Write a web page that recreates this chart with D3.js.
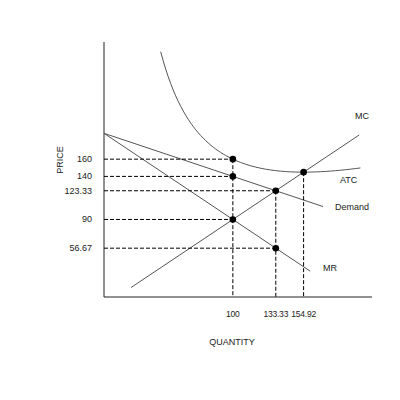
<!DOCTYPE html>
<html><head><meta charset="utf-8">
<script src="https://cdn.jsdelivr.net/npm/d3@7"></script>
<style>body{margin:0;background:#fff}text{font-family:"Liberation Sans",Arial,sans-serif;font-size:9px;fill:#222}</style>
</head><body><svg id="c" width="400" height="400"></svg>
<script>
// Values
const priceTicks = [160, 140, 123.33, 90, 56.67];
const qtyTicks = [100, 133.33, 154.92];
const demandQ = [0, 170];
const mrQ = [0, 160];
const mcQ = [21, 198];
const atcStart = 44, atcEnd = 199;
// points: [q, p, horizontal dash?, vertical dash?]
const points = [[100,160,true,true],[100,140,true,false],[133.33,123.33,true,true],[154.92,144.92,false,true],[100,90,true,false],[133.33,56.67,true,false]];

const demand = q => 190 - 0.5*q;
const mr = q => 190 - q;
const mc = q => q - 10;
const atc = q => 12000/q + q/2 - 10;

const x = d3.scaleLinear().domain([0, 208]).range([104, 372]);
const y = d3.scaleLinear().domain([0, 296]).range([297, 42]);
const svg = d3.select('#c');

svg.append('line').attr('x1',104).attr('x2',104).attr('y1',42).attr('y2',297).attr('stroke','#222');
svg.append('line').attr('x1',104).attr('x2',372).attr('y1',297).attr('y2',297).attr('stroke','#222');

const line = d3.line().x(d => x(d[0])).y(d => y(d[1]));
function curve(f, q0, q1, n) {
  return d3.range(n+1).map(i => { let q = q0 + (q1-q0)*i/n; return [q, f(q)]; });
}
[[demand, demandQ],[mr, mrQ],[mc, mcQ]].forEach(([f, r]) =>
  svg.append('path').attr('d', line(curve(f, r[0], r[1], 2))).attr('stroke','#555').attr('fill','none'));
svg.append('path').attr('d', line(curve(atc, atcStart, atcEnd, 80))).attr('stroke','#555').attr('fill','none');

points.forEach(([q, p, h, v]) => {
  if (h) svg.append('line').attr('x1', x(0)).attr('x2', x(q)).attr('y1', y(p)).attr('y2', y(p))
    .attr('stroke','#000').attr('stroke-dasharray','4,2');
  if (v) svg.append('line').attr('x1', x(q)).attr('x2', x(q)).attr('y1', y(p)).attr('y2', y(0))
    .attr('stroke','#000').attr('stroke-dasharray','4,2');
});
points.forEach(([q, p]) => svg.append('circle').attr('cx', x(q)).attr('cy', y(p)).attr('r', 3.3).attr('fill','#000'));

priceTicks.forEach(p => svg.append('text').attr('x', 92).attr('y', y(p)+3).attr('text-anchor','end').text(p));
qtyTicks.forEach(q => svg.append('text').attr('x', x(q)).attr('y', 317).attr('text-anchor','middle')
  .style('font-size','8.5px').style('letter-spacing','-0.2px').text(q));

svg.append('text').attr('x', 362).attr('y', 119).attr('text-anchor','middle').text('MC');
svg.append('text').attr('x', 340).attr('y', 183).text('ATC');
svg.append('text').attr('x', 335).attr('y', 210).text('Demand');
svg.append('text').attr('x', 323).attr('y', 271).text('MR');
svg.append('text').attr('x', 232).attr('y', 345).attr('text-anchor','middle').text('QUANTITY');
svg.append('text').attr('transform','translate(63,160) rotate(-90)').attr('text-anchor','middle').text('PRICE');
</script></body></html>
